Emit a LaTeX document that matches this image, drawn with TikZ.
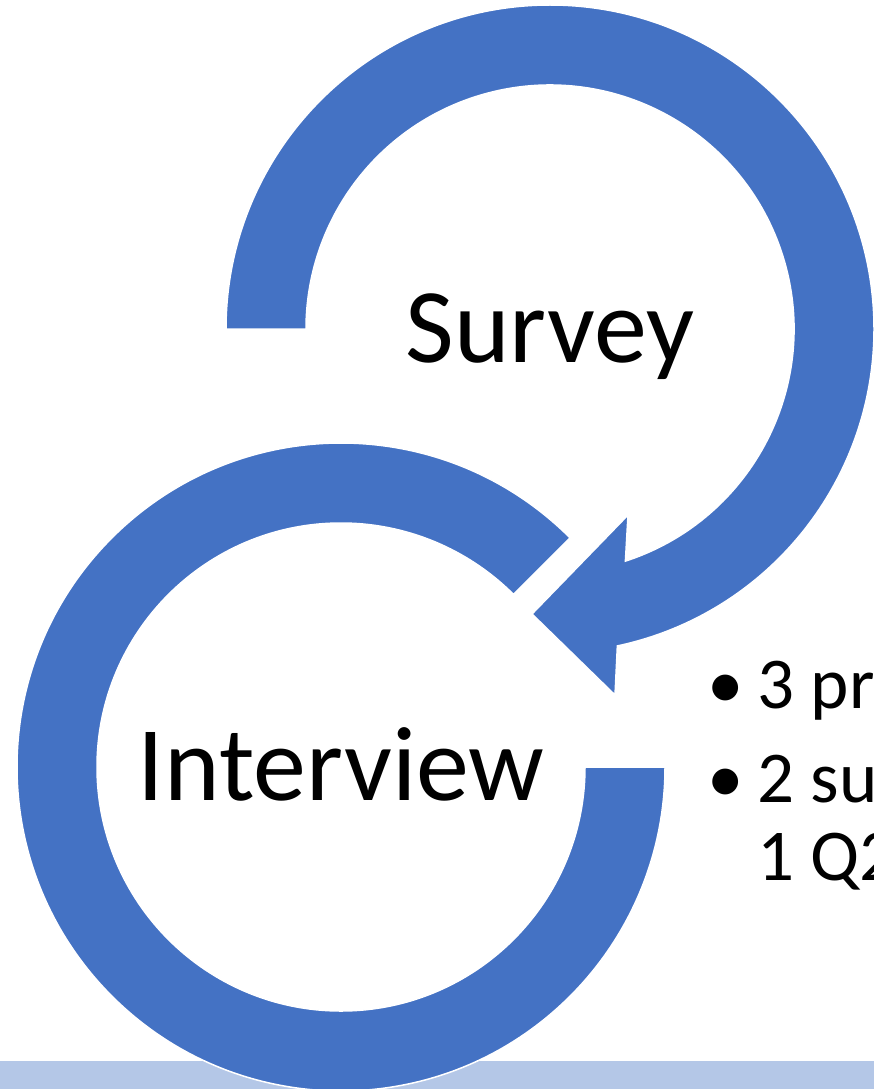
\documentclass[tikz,border=0pt]{standalone}
\usepackage{fontspec}
\setmainfont{Carlito}
\definecolor{ringblue}{HTML}{4472C4}
\definecolor{barblue}{HTML}{B4C7E7}
\begin{document}
\begin{tikzpicture}[x=1pt,y=1pt,
  ring/.style={fill=ringblue, draw=white, line width=1.5pt},
  big/.style={font=\fontsize{106}{110}\selectfont, inner sep=0, anchor=base},
  item/.style={font=\fontsize{73}{78}\selectfont, inner sep=0, anchor=base west}]
\useasboundingbox (0,0) rectangle (874,-1089);
\fill[barblue] (0,-1061) rectangle (874,-1089);
% top circular arrow (Survey)
\path[ring] (226,-329) arc[start angle=180, end angle=-78, radius=324]
  -- (615,-695) -- (532,-614) -- (628,-515) -- (625.4,-561.1)
  arc[start angle=-72, end angle=180, radius=244] -- cycle;
% bottom ring (Interview)
\path[ring] (341,-767) ++(45:324) arc[start angle=45, end angle=360, radius=324]
  -- ++(-80,0) arc[start angle=360, end angle=45, radius=244] -- cycle;
\node[big] (survey) at (550,-362) {Survey};
\node[big] (interview) at (341,-800) {Interview};
\node[item] (b1) at (707,-708) {•};
\node[item] (t1) at (757,-708) {3 pr};
\node[item] (b2) at (707,-802) {•};
\node[item] (t2) at (757,-802) {2 su};
\node[item] (t3) at (757,-880) {1 Q2};
\end{tikzpicture}
\end{document}
